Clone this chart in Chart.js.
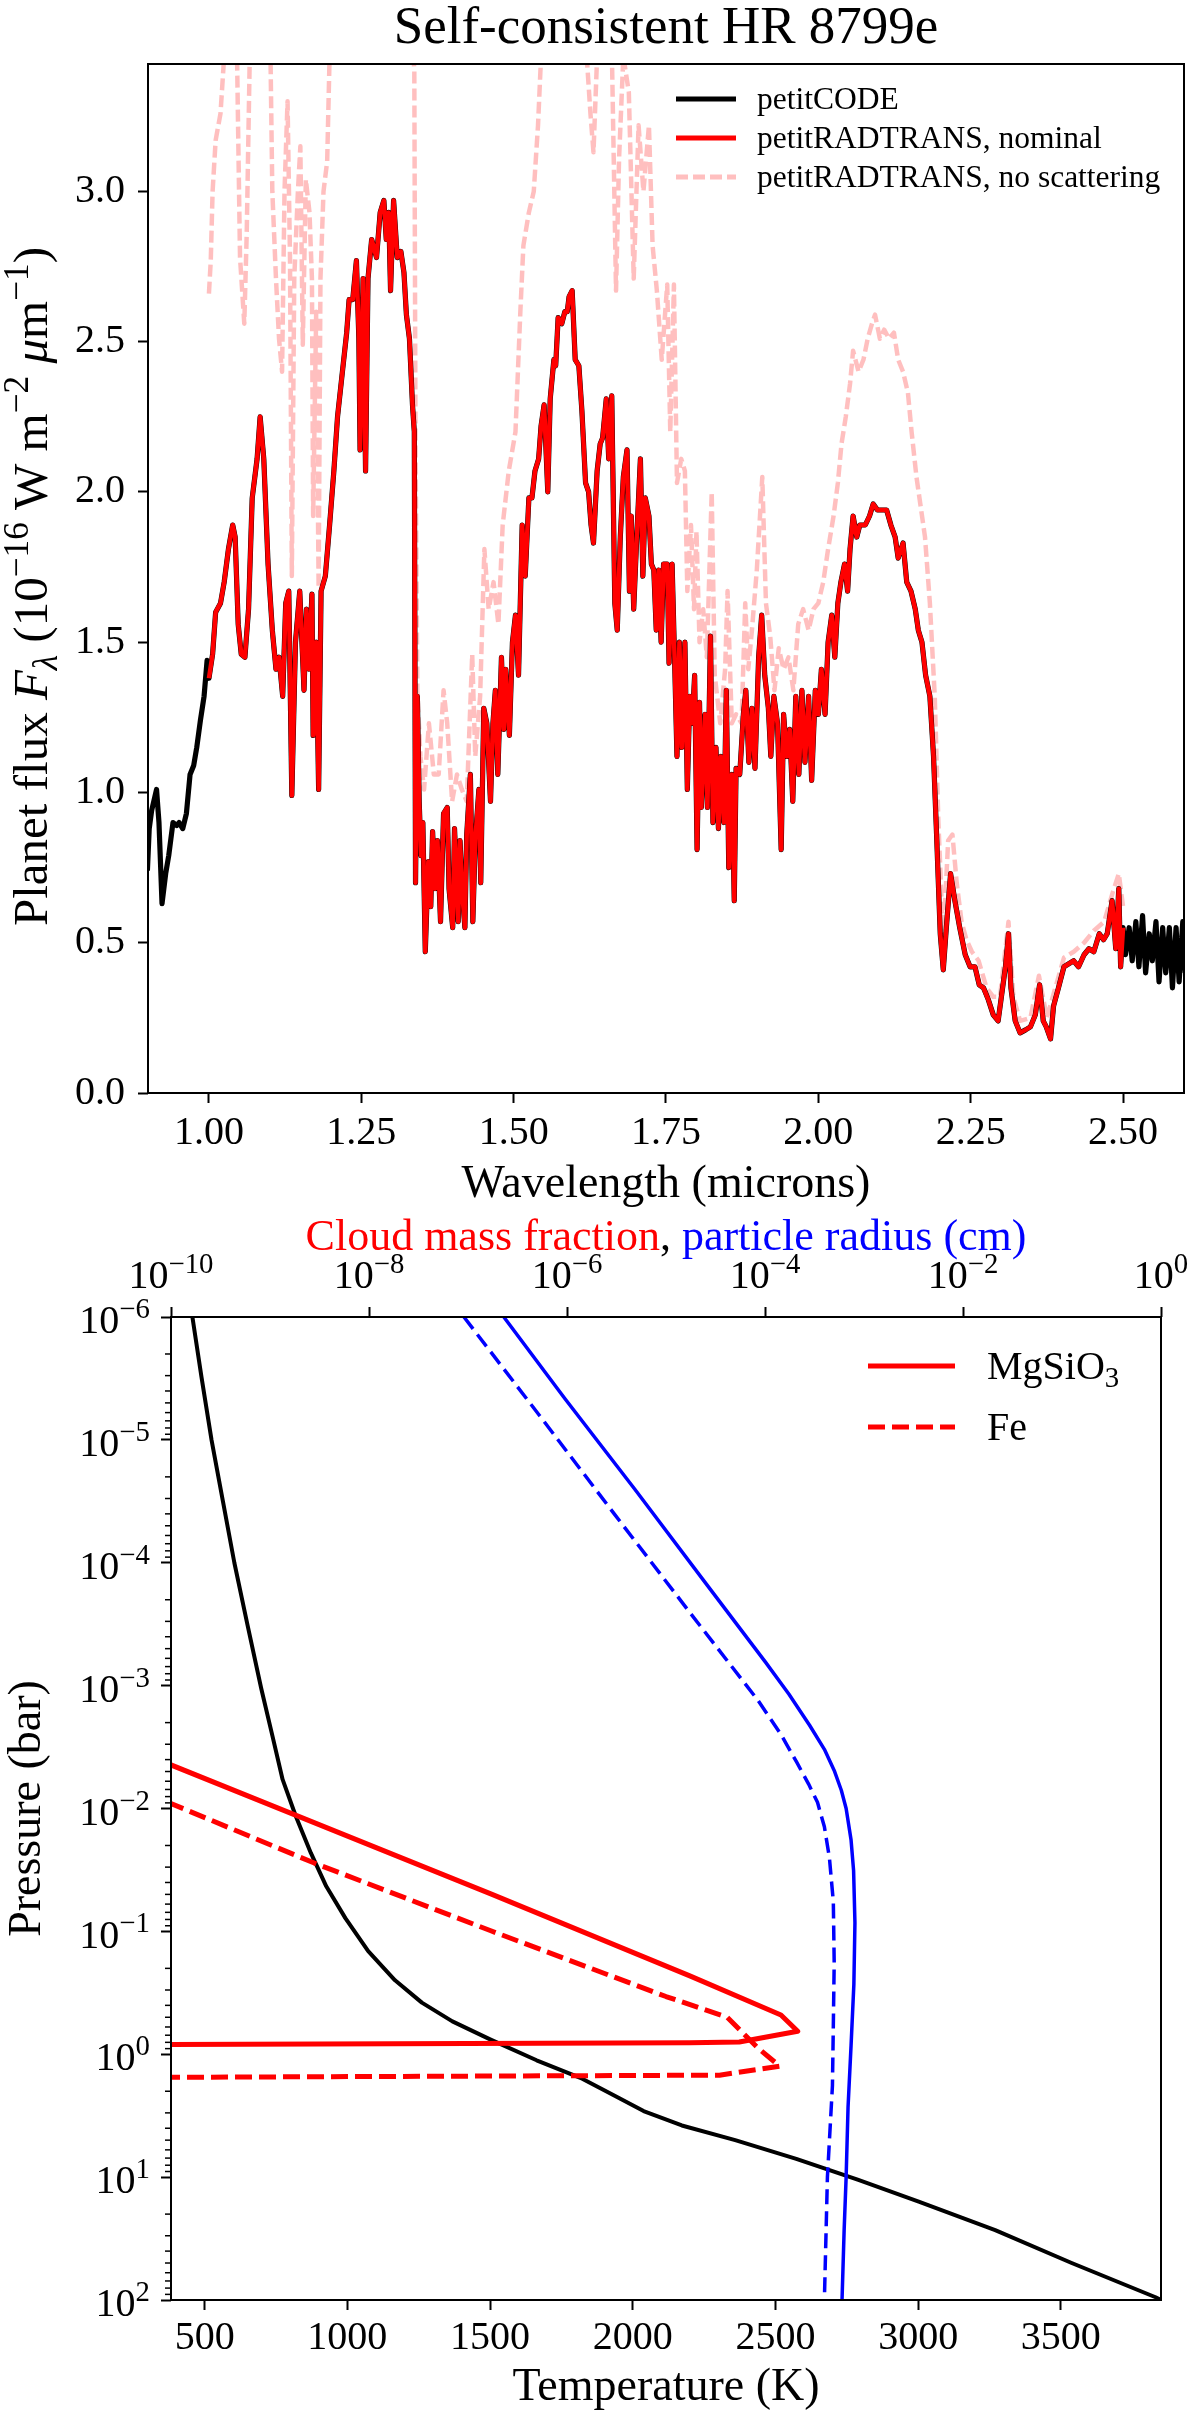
<!DOCTYPE html>
<html>
<head>
<meta charset="utf-8">
<title>Self-consistent HR 8799e</title>
<script src="https://cdn.jsdelivr.net/npm/chart.js@4.4.1/dist/chart.umd.min.js"></script>
<style>
  html, body { margin: 0; padding: 0; background: #fff; }
  body { width: 1200px; height: 2422px; position: relative; overflow: hidden; }
  .panel { position: absolute; left: 0; width: 1200px; }
  #specWrap { top: 0; height: 1215px; }
  #profWrap { top: 1150px; height: 1272px; }
</style>
</head>
<body>
<div class="panel" id="specWrap"><canvas id="specChart"></canvas></div>
<div class="panel" id="profWrap"><canvas id="profChart"></canvas></div>
<script>
// ── Top panel: emission spectrum (microns, 1e-16 W m^-2 um^-1) ──────────
// petitCODE only shows on its own below 1.0 and above 2.5 micron
const codeWaveBlue = [0.899, 0.902, 0.906, 0.914, 0.918, 0.923, 0.929, 0.934, 0.941, 0.947,
  0.951, 0.957, 0.963, 0.969, 0.975, 0.980, 0.986, 0.992, 0.997];
const codeFluxBlue = [0.74, 0.88, 0.94, 1.01, 0.90, 0.63, 0.73, 0.79, 0.90, 0.89,
  0.90, 0.88, 0.93, 1.06, 1.09, 1.15, 1.24, 1.32, 1.44];
const codeWaveRed = [2.504, 2.510, 2.515, 2.521, 2.526, 2.532, 2.537, 2.543, 2.548, 2.554,
  2.559, 2.565, 2.570, 2.576, 2.581, 2.587, 2.592, 2.598, 2.602];
const codeFluxRed = [0.46, 0.55, 0.44, 0.57, 0.42, 0.59, 0.40, 0.53, 0.44, 0.57,
  0.37, 0.55, 0.40, 0.55, 0.35, 0.55, 0.37, 0.57, 0.40];

const nominalWave = [1.000, 1.006, 1.011, 1.019, 1.025, 1.032, 1.039, 1.043, 1.048, 1.053,
  1.059, 1.065, 1.071, 1.079, 1.084, 1.090, 1.097, 1.104, 1.110, 1.115,
  1.121, 1.126, 1.131, 1.136, 1.142, 1.149, 1.156, 1.160, 1.164, 1.169,
  1.171, 1.176, 1.180, 1.184, 1.191, 1.198, 1.205, 1.211, 1.219, 1.226,
  1.230, 1.236, 1.242, 1.246, 1.248, 1.253, 1.257, 1.261, 1.267, 1.275,
  1.281, 1.287, 1.291, 1.295, 1.298, 1.303, 1.309, 1.315, 1.320, 1.324,
  1.329, 1.334, 1.337, 1.339, 1.342, 1.345, 1.348, 1.351, 1.355, 1.360,
  1.364, 1.367, 1.371, 1.375, 1.380, 1.385, 1.391, 1.394, 1.400, 1.403,
  1.409, 1.412, 1.416, 1.420, 1.423, 1.429, 1.433, 1.437, 1.443, 1.446,
  1.451, 1.456, 1.462, 1.466, 1.470, 1.474, 1.480, 1.484, 1.487, 1.493,
  1.498, 1.503, 1.508, 1.514, 1.519, 1.525, 1.530, 1.535, 1.541, 1.545,
  1.550, 1.556, 1.560, 1.566, 1.569, 1.573, 1.579, 1.584, 1.588, 1.591,
  1.596, 1.601, 1.607, 1.612, 1.618, 1.623, 1.627, 1.631, 1.637, 1.642,
  1.646, 1.652, 1.656, 1.661, 1.666, 1.670, 1.675, 1.680, 1.686, 1.690,
  1.693, 1.697, 1.702, 1.708, 1.712, 1.716, 1.722, 1.726, 1.730, 1.734,
  1.738, 1.742, 1.746, 1.752, 1.755, 1.760, 1.764, 1.768, 1.772, 1.776,
  1.781, 1.785, 1.789, 1.793, 1.797, 1.801, 1.805, 1.808, 1.814, 1.818,
  1.823, 1.827, 1.832, 1.836, 1.840, 1.845, 1.849, 1.853, 1.858, 1.862,
  1.865, 1.871, 1.877, 1.881, 1.886, 1.891, 1.896, 1.902, 1.907, 1.912,
  1.918, 1.922, 1.927, 1.933, 1.939, 1.943, 1.948, 1.953, 1.958, 1.963,
  1.968, 1.973, 1.978, 1.984, 1.989, 1.995, 2.000, 2.005, 2.011, 2.016,
  2.022, 2.027, 2.032, 2.037, 2.043, 2.048, 2.052, 2.057, 2.063, 2.068,
  2.077, 2.084, 2.090, 2.097, 2.104, 2.112, 2.119, 2.126, 2.131, 2.139,
  2.145, 2.152, 2.159, 2.164, 2.170, 2.176, 2.183, 2.189, 2.194, 2.200,
  2.205, 2.210, 2.217, 2.224, 2.232, 2.241, 2.249, 2.257, 2.264, 2.271,
  2.279, 2.287, 2.295, 2.301, 2.307, 2.312, 2.316, 2.323, 2.331, 2.340,
  2.348, 2.356, 2.363, 2.369, 2.374, 2.381, 2.386, 2.394, 2.403, 2.411,
  2.419, 2.427, 2.436, 2.444, 2.452, 2.461, 2.468, 2.474, 2.482, 2.488,
  2.493, 2.496, 2.500];
const nominalFlux = [1.38, 1.46, 1.60, 1.63, 1.70, 1.81, 1.89, 1.85, 1.56, 1.46,
  1.45, 1.61, 1.98, 2.11, 2.25, 2.11, 1.76, 1.54, 1.41, 1.45,
  1.32, 1.63, 1.67, 0.99, 1.50, 1.67, 1.34, 1.61, 1.41, 1.66,
  1.19, 1.50, 1.01, 1.67, 1.72, 1.89, 2.07, 2.25, 2.40, 2.53,
  2.64, 2.64, 2.77, 2.51, 2.14, 2.71, 2.07, 2.71, 2.84, 2.78,
  2.93, 2.97, 2.84, 2.93, 2.67, 2.97, 2.78, 2.80, 2.73, 2.59,
  2.51, 2.29, 2.20, 0.70, 1.32, 0.97, 0.79, 0.90, 0.47, 0.77,
  0.62, 0.87, 0.68, 0.84, 0.57, 0.93, 0.95, 0.68, 0.55, 0.88,
  0.57, 0.84, 0.66, 0.55, 0.86, 1.06, 0.57, 0.84, 1.01, 0.70,
  1.28, 1.23, 0.97, 1.23, 1.34, 1.06, 1.45, 1.21, 1.41, 1.19,
  1.50, 1.59, 1.39, 1.89, 1.72, 1.98, 1.98, 2.07, 2.11, 2.22,
  2.29, 2.00, 2.31, 2.44, 2.42, 2.58, 2.56, 2.60, 2.60, 2.65,
  2.67, 2.44, 2.42, 2.27, 2.03, 2.00, 1.89, 1.83, 2.07, 2.16,
  2.18, 2.31, 2.11, 2.32, 1.63, 1.54, 1.85, 2.05, 2.14, 1.67,
  1.92, 1.61, 1.85, 2.11, 1.72, 1.98, 1.92, 1.76, 1.74, 1.54,
  1.74, 1.50, 1.76, 1.76, 1.43, 1.76, 1.45, 1.12, 1.50, 1.15,
  1.50, 1.01, 1.32, 1.23, 1.39, 0.81, 1.30, 0.95, 1.26, 0.95,
  1.52, 0.90, 1.15, 0.88, 1.12, 0.90, 1.34, 0.75, 1.06, 0.64,
  1.08, 1.06, 1.26, 1.34, 1.10, 1.28, 1.08, 1.45, 1.59, 1.39,
  1.28, 1.12, 1.32, 1.23, 0.81, 1.26, 1.12, 1.21, 0.97, 1.32,
  1.06, 1.34, 1.10, 1.32, 1.04, 1.34, 1.26, 1.41, 1.26, 1.50,
  1.59, 1.45, 1.63, 1.70, 1.76, 1.67, 1.81, 1.92, 1.85, 1.89,
  1.89, 1.92, 1.96, 1.94, 1.94, 1.94, 1.89, 1.85, 1.78, 1.83,
  1.70, 1.67, 1.61, 1.54, 1.50, 1.39, 1.32, 1.12, 0.86, 0.53,
  0.41, 0.55, 0.73, 0.64, 0.55, 0.46, 0.42, 0.42, 0.36, 0.35,
  0.31, 0.26, 0.24, 0.33, 0.42, 0.53, 0.35, 0.24, 0.20, 0.21,
  0.22, 0.26, 0.36, 0.24, 0.22, 0.18, 0.29, 0.35, 0.42, 0.43,
  0.44, 0.42, 0.46, 0.48, 0.47, 0.53, 0.51, 0.53, 0.64, 0.48,
  0.68, 0.42, 0.55];

// no-scattering run; 3.6 marks stretches that leave the top of the frame
const noScatWave = [1.000, 1.003, 1.006, 1.011, 1.019, 1.025, 1.030, 1.045, 1.051, 1.058,
  1.062, 1.067, 1.072, 1.100, 1.104, 1.110, 1.115, 1.120, 1.124, 1.129,
  1.133, 1.136, 1.140, 1.146, 1.150, 1.154, 1.159, 1.165, 1.169, 1.171,
  1.176, 1.180, 1.183, 1.188, 1.194, 1.198, 1.203, 1.332, 1.337, 1.339,
  1.342, 1.347, 1.353, 1.361, 1.369, 1.377, 1.385, 1.391, 1.399, 1.407,
  1.415, 1.423, 1.432, 1.437, 1.445, 1.452, 1.459, 1.467, 1.475, 1.482,
  1.492, 1.503, 1.511, 1.516, 1.525, 1.533, 1.540, 1.545, 1.550, 1.615,
  1.626, 1.631, 1.637, 1.642, 1.660, 1.668, 1.673, 1.680, 1.689, 1.697,
  1.705, 1.713, 1.722, 1.728, 1.735, 1.743, 1.752, 1.757, 1.763, 1.768,
  1.775, 1.781, 1.785, 1.791, 1.796, 1.800, 1.805, 1.811, 1.817, 1.825,
  1.830, 1.839, 1.847, 1.851, 1.858, 1.865, 1.874, 1.880, 1.885, 1.891,
  1.899, 1.908, 1.914, 1.921, 1.928, 1.935, 1.943, 1.951, 1.959, 1.967,
  1.975, 1.984, 1.992, 2.000, 2.008, 2.016, 2.025, 2.032, 2.038, 2.045,
  2.052, 2.057, 2.066, 2.074, 2.081, 2.088, 2.093, 2.101, 2.108, 2.116,
  2.124, 2.131, 2.139, 2.147, 2.153, 2.161, 2.175, 2.183, 2.191, 2.197,
  2.205, 2.213, 2.220, 2.227, 2.235, 2.243, 2.252, 2.263, 2.276, 2.287,
  2.298, 2.312, 2.320, 2.331, 2.348, 2.362, 2.375, 2.386, 2.403, 2.419,
  2.436, 2.452, 2.469, 2.482, 2.493, 2.500];
const noScatFlux = [2.66, 2.77, 3.00, 3.17, 3.26, 3.45, 3.60, 3.60, 2.78, 2.56,
  2.86, 3.45, 3.60, 3.60, 3.00, 2.71, 2.51, 2.40, 3.00, 3.30,
  2.78, 1.72, 2.71, 3.00, 3.15, 2.49, 3.04, 2.93, 2.71, 1.92,
  2.60, 1.68, 2.71, 3.00, 3.10, 3.45, 3.60, 3.60, 3.40, 2.15,
  1.34, 1.12, 1.01, 1.23, 1.06, 1.06, 1.34, 1.23, 0.97, 1.06,
  1.01, 0.97, 1.46, 1.12, 1.32, 1.81, 1.61, 1.70, 1.56, 1.89,
  2.07, 2.20, 2.60, 2.82, 2.93, 3.00, 3.22, 3.45, 3.60, 3.60,
  3.26, 3.13, 3.45, 3.60, 3.60, 2.67, 3.11, 3.45, 3.33, 2.71,
  3.22, 3.00, 3.22, 2.82, 2.67, 2.44, 2.69, 2.20, 2.69, 2.03,
  2.11, 2.07, 1.67, 1.89, 1.61, 1.87, 1.50, 1.61, 1.45, 2.00,
  1.39, 1.23, 1.41, 1.67, 1.23, 1.26, 1.23, 1.63, 1.41, 1.54,
  1.74, 2.05, 1.63, 1.52, 1.34, 1.48, 1.41, 1.45, 1.34, 1.56,
  1.61, 1.54, 1.61, 1.63, 1.70, 1.81, 1.92, 2.03, 2.16, 2.25,
  2.36, 2.47, 2.40, 2.44, 2.51, 2.56, 2.59, 2.51, 2.54, 2.51,
  2.53, 2.44, 2.40, 2.33, 2.20, 2.05, 1.85, 1.63, 1.32, 0.90,
  0.51, 0.84, 0.86, 0.70, 0.57, 0.51, 0.47, 0.44, 0.35, 0.32,
  0.32, 0.57, 0.32, 0.24, 0.25, 0.39, 0.25, 0.33, 0.45, 0.47,
  0.50, 0.54, 0.57, 0.66, 0.73, 0.62];

const waveTicks = [1.00, 1.25, 1.50, 1.75, 2.00, 2.25, 2.50];
const fluxTicks = [0.0, 0.5, 1.0, 1.5, 2.0, 2.5, 3.0];

// ── Bottom panel: pressure-temperature profile and clouds ───────────────
const tpPressure = [1e-6, 3.1e-6, 1e-5, 3.16e-5, 1e-4, 3.2e-4, 1.05e-3, 2.6e-3, 5.8e-3, 1.15e-2,
  2.3e-2, 4.3e-2, 7.8e-2, 0.145, 0.25, 0.38, 0.54, 0.76, 1.12, 1.58,
  2.14, 2.9, 3.8, 5.0, 7.1, 10.5, 15.8, 27, 50, 95, 100];
const tpTemperature = [457, 489, 524, 564, 604, 650, 698, 738, 773, 819,
  872, 926, 993, 1073, 1167, 1261, 1368, 1502, 1663, 1823,
  1930, 2038, 2172, 2359, 2573, 2788, 3002, 3270, 3538, 3832, 3851];

const mgsRadiusP = [1e-6, 4.6e-6, 2.5e-5, 1.5e-4, 6.5e-4, 1.17e-3, 2.1e-3, 3.3e-3, 4.9e-3, 7.1e-3,
  1.0e-2, 1.8e-2, 3.2e-2, 8.5e-2, 0.27, 0.85, 2.7, 10, 27, 100];
const mgsRadius = [2.3e-7, 9.5e-7, 4.8e-6, 2.57e-5, 1.02e-4, 1.74e-4, 2.82e-4, 3.98e-4, 5.0e-4, 5.9e-4,
  6.6e-4, 7.4e-4, 7.85e-4, 8.1e-4, 7.9e-4, 7.4e-4, 6.9e-4, 6.6e-4, 6.3e-4, 6.0e-4];
const feRadiusP = [1e-6, 6.3e-6, 4e-5, 2.6e-4, 1.32e-3, 2.5e-3, 4.2e-3, 6.3e-3, 8.9e-3, 1.41e-2,
  2.5e-2, 5.75e-2, 0.18, 0.58, 1.8, 10, 100];
const feRadius = [9.1e-8, 5.25e-7, 3.0e-6, 1.78e-5, 8.5e-5, 1.45e-4, 2.09e-4, 2.75e-4, 3.39e-4, 3.98e-4,
  4.47e-4, 4.9e-4, 5.0e-4, 4.9e-4, 4.8e-4, 4.27e-4, 3.98e-4];

const mgsCloudP = [3.6e-3, 4.42e-3, 1.10e-2, 4.95e-2, 0.230, 0.479, 0.650, 0.794, 0.807, 0.832, 0.835];
const mgsCloudX = [5.3e-11, 1e-10, 1.66e-9, 1.70e-7, 1.74e-5, 1.45e-4, 2.14e-4, 5.5e-5, 1.74e-5, 1e-10, 1e-12];
const feCloudP = [7.5e-3, 9.12e-3, 2.78e-2, 9.89e-2, 0.339, 0.501, 0.891, 1.25, 1.48, 1.54, 1.545];
const feCloudX = [5.5e-11, 1e-10, 2.8e-9, 1.7e-7, 1e-5, 4.17e-5, 8.5e-5, 1.41e-4, 3.47e-5, 1e-10, 1e-12];

const tempTicks = [500, 1000, 1500, 2000, 2500, 3000, 3500];
const pressureExps = [-6, -5, -4, -3, -2, -1, 0, 1, 2];
const cloudExps = [-10, -8, -6, -4, -2, 0];

// ── helpers ─────────────────────────────────────────────────────────────
const SERIF = '"Liberation Serif", "Times New Roman", serif';
Chart.defaults.font.family = SERIF;
Chart.defaults.color = '#000';

const zip = (xs, ys) => xs.map((x, i) => ({ x, y: ys[i] }));

// tiny rich-text writer for super/subscripts and mixed colours
function drawRich(ctx, parts, x, y, size, align) {
  ctx.save();
  const laid = parts.map(p => {
    if (typeof p === 'string') p = { t: p };
    const s = (p.sup || p.sub) ? size * 0.72 : size;
    const font = (p.italic ? 'italic ' : '') + s + 'px ' + SERIF;
    ctx.font = font;
    return { ...p, font, w: ctx.measureText(p.t).width, dy: p.sup ? -size * 0.38 : p.sub ? size * 0.2 : 0 };
  });
  const total = laid.reduce((a, p) => a + p.w, 0);
  let cx = align === 'center' ? x - total / 2 : align === 'right' ? x - total : x;
  const base = y + size * 0.33;
  ctx.textAlign = 'left';
  ctx.textBaseline = 'alphabetic';
  laid.forEach(p => {
    ctx.font = p.font;
    ctx.fillStyle = p.color || '#000';
    ctx.fillText(p.t, cx, base + p.dy);
    cx += p.w;
  });
  ctx.restore();
}

const powerLabel = e => ['10', { t: String(e).replace('-', '\u2212'), sup: true }];

const framePlugin = {
  id: 'frame',
  afterDatasetsDraw(chart) {
    const { ctx, chartArea: a } = chart;
    ctx.save();
    ctx.strokeStyle = '#000';
    ctx.lineWidth = 2;
    ctx.strokeRect(a.left, a.top, a.right - a.left, a.bottom - a.top);
    ctx.restore();
  }
};

function legendPlugin(entries, cfg) {
  return {
    id: 'lineLegend',
    afterDatasetsDraw(chart) {
      const ctx = chart.ctx;
      entries.forEach((it, i) => {
        const ds = chart.data.datasets[it.dataset];
        const y = cfg.y[i];
        ctx.save();
        ctx.strokeStyle = ds.borderColor;
        ctx.lineWidth = cfg.lineWidth;
        ctx.setLineDash(ds.borderDash || []);
        ctx.beginPath();
        ctx.moveTo(cfg.x0, y);
        ctx.lineTo(cfg.x1, y);
        ctx.stroke();
        ctx.restore();
        drawRich(ctx, it.parts, cfg.textX, y, cfg.size, 'left');
      });
    }
  };
}

const tickGrid = { display: true, drawOnChartArea: false, drawTicks: true, tickLength: 10, tickWidth: 2, tickColor: '#000' };

// ── spectrum chart ──────────────────────────────────────────────────────
const specYTitle = ['Planet flux ', { t: 'F', italic: true }, { t: '\u03bb', sub: true, italic: true },
  ' (10', { t: '\u221216', sup: true }, ' W m', { t: '\u22122', sup: true }, ' ',
  { t: '\u03bc', italic: true }, 'm', { t: '\u22121', sup: true }, ')'];

new Chart(document.getElementById('specChart'), {
  type: 'line',
  data: {
    datasets: [
      { label: 'petitCODE', data: zip([...codeWaveBlue, ...nominalWave, ...codeWaveRed], [...codeFluxBlue, ...nominalFlux, ...codeFluxRed]),
        borderColor: '#000000', borderWidth: 5.2, order: 2 },
      { label: 'petitRADTRANS, nominal', data: zip(nominalWave, nominalFlux),
        borderColor: '#ff0000', borderWidth: 4.5, order: 1 },
      { label: 'petitRADTRANS, no scattering', data: zip(noScatWave, noScatFlux),
        borderColor: 'rgba(255,0,0,0.25)', borderWidth: 4.5, borderDash: [12, 5], order: 3 }
    ]
  },
  options: {
    animation: false,
    responsive: true,
    maintainAspectRatio: false,
    elements: { point: { radius: 0 }, line: { tension: 0, borderJoinStyle: 'round', borderCapStyle: 'butt' } },
    layout: { padding: { left: 0, right: 16, top: 0, bottom: 0 } },
    plugins: {
      legend: { display: false },
      tooltip: { enabled: false },
      title: { display: true, fullSize: false, text: 'Self-consistent HR 8799e', color: '#000',
        font: { size: 53, weight: 'normal', lineHeight: 1.1 }, padding: { top: 0, bottom: 5.7 } }
    },
    scales: {
      x: {
        type: 'linear', min: 0.9, max: 2.6,
        afterBuildTicks: s => { s.ticks = waveTicks.map(v => ({ value: v })); },
        afterFit: s => { s.height = 122; },
        ticks: { autoSkip: false, maxRotation: 0, padding: 6, font: { size: 40 }, callback: v => v.toFixed(2) },
        grid: tickGrid, border: { display: false },
        title: { display: true, text: 'Wavelength (microns)', font: { size: 46 }, padding: { top: 0, bottom: 2.4 } }
      },
      y: {
        type: 'linear', min: 0, max: 3.424,
        afterBuildTicks: s => { s.ticks = fluxTicks.map(v => ({ value: v })); },
        afterFit: s => { s.width = 148; },
        ticks: { autoSkip: false, padding: 13, font: { size: 40 }, callback: v => v.toFixed(1) },
        grid: tickGrid, border: { display: false }
      }
    }
  },
  plugins: [
    framePlugin,
    legendPlugin([
      { dataset: 0, parts: ['petitCODE'] },
      { dataset: 1, parts: ['petitRADTRANS, nominal'] },
      { dataset: 2, parts: ['petitRADTRANS, no scattering'] }
    ], { x0: 676, x1: 736, textX: 757, y: [99, 138, 177], size: 31.5, lineWidth: 5 }),
    {
      id: 'specYTitle',
      afterDraw(chart) {
        const { ctx, chartArea: a } = chart;
        ctx.save();
        ctx.translate(30.6, (a.top + a.bottom) / 2 + 8);
        ctx.rotate(-Math.PI / 2);
        drawRich(ctx, specYTitle, 0, 0, 49, 'center');
        ctx.restore();
      }
    }
  ]
});

// ── profile chart ───────────────────────────────────────────────────────
new Chart(document.getElementById('profChart'), {
  type: 'line',
  data: {
    datasets: [
      { label: 'MgSiO3', data: zip(mgsCloudX, mgsCloudP), xAxisID: 'x2', borderColor: '#ff0000', borderWidth: 5, order: 1 },
      { label: 'Fe', data: zip(feCloudX, feCloudP), xAxisID: 'x2', borderColor: '#ff0000', borderWidth: 5, borderDash: [17, 7], order: 2 },
      { label: 'MgSiO3 radius', data: zip(mgsRadius, mgsRadiusP), xAxisID: 'x2', borderColor: '#0000ff', borderWidth: 3.5, order: 3 },
      { label: 'Fe radius', data: zip(feRadius, feRadiusP), xAxisID: 'x2', borderColor: '#0000ff', borderWidth: 3.5, borderDash: [15, 7], order: 4 },
      { label: 'Temperature', data: zip(tpTemperature, tpPressure), xAxisID: 'x', borderColor: '#000000', borderWidth: 4, order: 5 }
    ]
  },
  options: {
    animation: false,
    responsive: true,
    maintainAspectRatio: false,
    elements: { point: { radius: 0 }, line: { tension: 0, borderJoinStyle: 'round', borderCapStyle: 'butt' } },
    layout: { padding: { left: 0, right: 39, top: 0, bottom: 0 } },
    plugins: { legend: { display: false }, tooltip: { enabled: false } },
    scales: {
      x: {
        type: 'linear', position: 'bottom', min: 382, max: 3851,
        afterBuildTicks: s => { s.ticks = tempTicks.map(v => ({ value: v })); },
        afterFit: s => { s.height = 122; },
        ticks: { autoSkip: false, maxRotation: 0, padding: 4, font: { size: 40 }, callback: v => String(v) },
        grid: tickGrid, border: { display: false },
        title: { display: true, text: 'Temperature (K)', font: { size: 46 }, padding: { top: 0, bottom: 6.4 } }
      },
      x2: {
        type: 'logarithmic', position: 'top', min: 1e-10, max: 1,
        afterBuildTicks: s => { s.ticks = cloudExps.map(e => ({ value: Math.pow(10, e) })); },
        afterFit: s => { s.height = 167; },
        ticks: { autoSkip: false, maxRotation: 0, callback: () => '' },
        grid: tickGrid, border: { display: false }
      },
      y: {
        type: 'logarithmic', reverse: true, min: 1e-6, max: 100,
        afterBuildTicks: s => { s.ticks = pressureExps.map(e => ({ value: Math.pow(10, e) })); },
        afterFit: s => { s.width = 171; },
        ticks: { autoSkip: false, callback: () => '' },
        grid: tickGrid, border: { display: false },
        title: { display: true, text: 'Pressure (bar)', font: { size: 46 }, padding: { top: 0, bottom: 0 } }
      }
    }
  },
  plugins: [
    framePlugin,
    legendPlugin([
      { dataset: 0, parts: ['MgSiO', { t: '3', sub: true }] },
      { dataset: 1, parts: ['Fe'] }
    ], { x0: 868, x1: 955, textX: 987, y: [216, 277], size: 40, lineWidth: 5 }),
    {
      id: 'logLabels',
      afterDraw(chart) {
        const { ctx, chartArea: a, scales } = chart;
        // minor pressure ticks
        ctx.save();
        ctx.strokeStyle = '#000';
        ctx.lineWidth = 1.5;
        pressureExps.slice(0, -1).forEach(e => {
          for (let k = 2; k < 10; k++) {
            const py = scales.y.getPixelForValue(k * Math.pow(10, e));
            ctx.beginPath();
            ctx.moveTo(a.left, py);
            ctx.lineTo(a.left - 6, py);
            ctx.stroke();
          }
        });
        ctx.restore();
        pressureExps.forEach(e => {
          drawRich(ctx, powerLabel(e), a.left - 21, scales.y.getPixelForValue(Math.pow(10, e)) + 3, 40, 'right');
        });
        cloudExps.forEach(e => {
          drawRich(ctx, powerLabel(e), scales.x2.getPixelForValue(Math.pow(10, e)), a.top - 42.5, 40, 'center');
        });
        drawRich(ctx, [
          { t: 'Cloud mass fraction', color: '#ff0000' },
          { t: ', ', color: '#000000' },
          { t: 'particle radius (cm)', color: '#0000ff' }
        ], (a.left + a.right) / 2, 85, 44, 'center');
      }
    }
  ]
});
</script>
</body>
</html>
